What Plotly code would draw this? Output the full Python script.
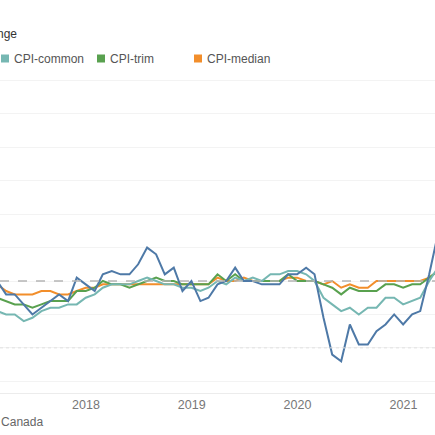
import pandas as pd
import plotly.graph_objects as go

# monthly, Feb 2017 - Apr 2021 (year-over-year % change)
months = pd.date_range("2017-02-28", "2021-04-30", freq="ME")

cpi = [2.0, 1.6, 1.6, 1.3, 1.0, 1.2, 1.4, 1.6, 1.4, 2.1, 1.9,
       1.7, 2.2, 2.3, 2.2, 2.2, 2.5, 3.0, 2.8, 2.2, 2.4, 1.7, 2.0,
       1.4, 1.5, 1.9, 2.0, 2.4, 2.0, 2.0, 1.9, 1.9, 1.9, 2.2, 2.2,
       2.4, 2.2, 0.9, -0.2, -0.4, 0.7, 0.1, 0.1, 0.5, 0.7, 1.0, 0.7,
       1.0, 1.1, 2.2, 3.4]
cpi_common = [1.1, 1.0, 1.0, 0.8, 0.9, 1.1, 1.2, 1.2, 1.3, 1.3, 1.5,
              1.6, 1.8, 1.9, 1.9, 1.9, 2.0, 2.1, 2.0, 1.9, 1.9, 1.8, 1.8,
              1.7, 1.8, 2.0, 1.9, 2.1, 2.0, 2.1, 2.0, 2.2, 2.2, 2.3, 2.3,
              2.2, 2.0, 1.5, 1.3, 1.1, 1.2, 1.0, 1.2, 1.2, 1.5, 1.5, 1.3,
              1.4, 1.5, 2.0, 2.4]
cpi_trim = [1.5, 1.4, 1.3, 1.3, 1.2, 1.3, 1.4, 1.4, 1.4, 1.7, 1.7,
            1.8, 2.0, 1.9, 1.9, 1.8, 1.9, 2.0, 2.1, 2.0, 2.0, 1.9, 1.9,
            1.9, 1.9, 2.2, 2.0, 2.2, 2.0, 2.0, 2.0, 2.0, 2.0, 2.2, 2.0,
            2.0, 2.0, 1.9, 1.8, 1.6, 1.8, 1.7, 1.7, 1.7, 1.9, 1.9, 1.8,
            1.9, 1.9, 2.1, 2.3]
cpi_median = [1.9, 1.7, 1.6, 1.6, 1.6, 1.7, 1.7, 1.6, 1.6, 1.7, 1.8,
              1.8, 1.9, 1.9, 1.9, 1.9, 1.9, 1.9, 1.9, 1.9, 1.9, 1.9, 1.9,
              1.9, 1.9, 2.1, 2.0, 2.0, 2.1, 2.0, 2.0, 2.0, 2.0, 2.1, 2.1,
              2.0, 2.0, 1.9, 2.0, 1.8, 1.9, 1.8, 1.8, 2.0, 2.0, 2.0, 2.0,
              2.0, 2.0, 2.1, 2.3]

target = 2.0

names = ["CPI-median", "CPI-trim", "CPI-common", "CPI"]
series = [cpi_median, cpi_trim, cpi_common, cpi]
colors = ["#f28e2b", "#59a14f", "#76b7b2", "#4e79a7"]

W, H = 435, 435
top, bottom = 47, 42
plot_h = H - top - bottom

fig = go.Figure()
for name, vals, col in zip(names, series, colors):
    fig.add_trace(go.Scatter(x=months, y=vals, name=name, mode="lines",
                             line=dict(color=col, width=2), showlegend=False))

# reference lines
fig.add_hline(y=target, line=dict(color="#b5b5b5", width=1.5, dash="dash"))
fig.add_hline(y=0, line=dict(color="#e0e0e0", width=1, dash="dot"))


def py(px):
    # pixel row -> paper y
    return (H - bottom - px) / plot_h


annots = []
shapes = []
# legend (blue entry is cut off on the left in the reference)
legend_items = [("CPI-common", "#76b7b2", 1), ("CPI-trim", "#59a14f", 97),
                ("CPI-median", "#f28e2b", 194)]
for label, col, x0 in legend_items:
    shapes.append(dict(type="rect", xref="paper", yref="paper",
                       x0=x0 / W, x1=(x0 + 8) / W, y0=py(62.5), y1=py(54.5),
                       fillcolor=col, line=dict(width=0)))
    annots.append(dict(x=(x0 + 11) / W, y=py(58.5), xref="paper", yref="paper",
                       text=label, showarrow=False, xanchor="left", yanchor="middle",
                       font=dict(size=12, color="#555555")))

annots.append(dict(x=19 / W, y=py(34), xref="paper", yref="paper",
                   text="Year-over-year percentage change", showarrow=False,
                   xanchor="right", yanchor="middle",
                   font=dict(size=12, color="#333333")))
annots.append(dict(x=45 / W, y=py(422), xref="paper", yref="paper",
                   text="Source: Statistics Canada", showarrow=False,
                   xanchor="right", yanchor="middle",
                   font=dict(size=12, color="#666666")))

for s in shapes:
    fig.add_shape(**s)

fig.update_layout(
    width=W, height=H,
    margin=dict(l=0, r=0, t=top, b=bottom, autoexpand=False),
    plot_bgcolor="white", paper_bgcolor="white",
    font=dict(family="Arial, Liberation Sans, sans-serif", size=12, color="#666666"),
    annotations=annots,
    showlegend=False,
)
fig.update_xaxes(range=["2017-03-10", "2021-04-20"], dtick="M12", tick0="2018-01-01",
                 tickformat="%Y", showgrid=False, showline=True, linecolor="#ececec",
                 ticks="", tickfont=dict(size=12.5, color="#777777"))
fig.update_yaxes(range=[-1.35, 9.0], dtick=1, tick0=0, showticklabels=False,
                 showgrid=True, gridcolor="#f3f3f3", gridwidth=1, zeroline=False)

# page body has an 8px default margin; drop it so the chart fills the window
fig.write_html("out.html", config={"displayModeBar": False},
               post_script="document.body.style.margin='0px';")
